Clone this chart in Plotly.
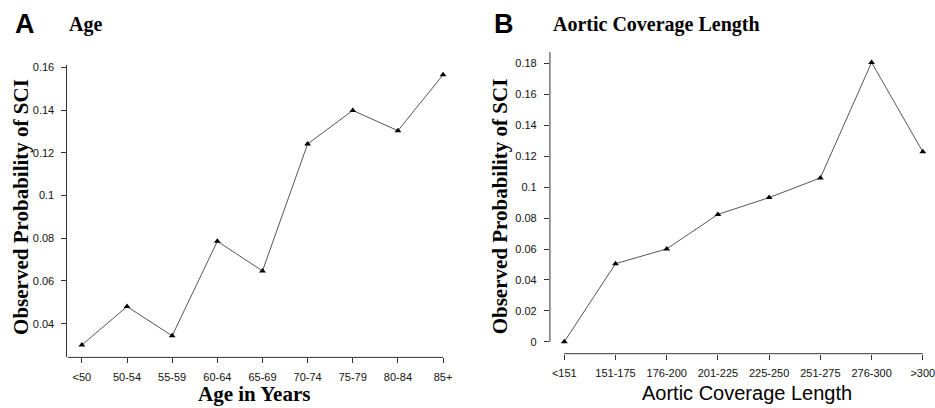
import plotly.graph_objects as go

# ---- data ----
age_groups = ["<50", "50-54", "55-59", "60-64", "65-69", "70-74", "75-79", "80-84", "85+"]
age_prob = [0.030, 0.048, 0.0343, 0.0786, 0.0647, 0.1242, 0.1399, 0.1304, 0.1566]

cov_groups = ["<151", "151-175", "176-200", "201-225", "225-250", "251-275", "276-300", ">300"]
cov_prob = [0.0, 0.0505, 0.0601, 0.0824, 0.0933, 0.106, 0.1807, 0.1229]

W, H = 935, 408
TICK_FONT = dict(family="Liberation Sans, Arial, sans-serif", size=11, color="#111")
SERIF = "Liberation Serif, Times New Roman, serif"
SANS = "Liberation Sans, Arial, sans-serif"
AX = "#333"

def px_x(p):
    return p / W

def px_y(p):
    return 1 - p / H

xa_range = [-0.32, 8.32]
ya_range = [0.0242, 0.1614]
xb_range = [-0.28, 7.16]
yb_range = [-0.0077, 0.1875]

fig = go.Figure()

line_style = dict(color="#555", width=1)
marker_style = dict(symbol="triangle-up", size=6, color="black")

fig.add_trace(go.Scatter(x=list(range(len(age_groups))), y=age_prob, mode="lines+markers",
                         line=line_style, marker=marker_style, xaxis="x", yaxis="y",
                         showlegend=False, hoverinfo="skip"))
fig.add_trace(go.Scatter(x=list(range(len(cov_groups))), y=cov_prob, mode="lines+markers",
                         line=line_style, marker=marker_style, xaxis="x2", yaxis="y2",
                         showlegend=False, hoverinfo="skip"))

common_x = dict(showgrid=False, zeroline=False, showline=False, ticks="outside", ticklen=5,
                tickwidth=1, tickcolor=AX, tickfont=TICK_FONT, ticklabelstandoff=4,
                ticklabeloverflow="allow")
common_y = dict(showgrid=False, zeroline=False, ticks="outside", ticklen=5,
                tickwidth=1, tickcolor=AX, tickfont=TICK_FONT, tick0=0, dtick=0.02,
                ticklabelstandoff=5)

fig.update_layout(
    width=W, height=H,
    margin=dict(l=0, r=0, t=0, b=0),
    paper_bgcolor="white", plot_bgcolor="white",
    xaxis=dict(domain=[px_x(67.7), px_x(459.5)], range=xa_range,
               tickmode="array", tickvals=list(range(len(age_groups))), ticktext=age_groups,
               anchor="y", **common_x),
    yaxis=dict(domain=[px_y(357), px_y(62)], range=ya_range, showline=True, linecolor=AX,
               linewidth=1, anchor="x", **common_y),
    xaxis2=dict(domain=[px_x(552.3), 1.0], range=xb_range,
                tickmode="array", tickvals=list(range(len(cov_groups))), ticktext=cov_groups,
                anchor="y2", **common_x),
    yaxis2=dict(domain=[px_y(353.3), px_y(49.3)], range=yb_range, showline=False,
                anchor="x2", **common_y),
)

# axis lines (R-style, spanning ticks)
fig.add_shape(type="line", xref="x", yref="y domain", x0=xa_range[0], x1=len(age_groups) - 1,
              y0=0, y1=0, line=dict(color=AX, width=1))
fig.add_shape(type="line", xref="x2", yref="y2 domain", x0=0, x1=len(cov_groups) - 1,
              y0=0, y1=0, line=dict(color=AX, width=1))
fig.add_shape(type="line", xref="x2 domain", yref="y2", x0=0, x1=0,
              y0=0, y1=yb_range[1], line=dict(color=AX, width=1))

annotations = [
    dict(text="<b>A</b>", x=px_x(13), y=px_y(21), xanchor="left", yanchor="middle",
         font=dict(family=SANS, size=27, color="black")),
    dict(text="<b>Age</b>", x=px_x(67), y=px_y(22), xanchor="left", yanchor="middle",
         font=dict(family=SERIF, size=20, color="black")),
    dict(text="<b>B</b>", x=px_x(494), y=px_y(21), xanchor="left", yanchor="middle",
         font=dict(family=SANS, size=27, color="black")),
    dict(text="<b>Aortic Coverage Length</b>", x=px_x(553), y=px_y(22), xanchor="left", yanchor="middle",
         font=dict(family=SERIF, size=20, color="black")),
    dict(text="<b>Observed Probability of SCI</b>", x=px_x(21.5), y=px_y(205), xanchor="center",
         yanchor="middle", textangle=-90, font=dict(family=SERIF, size=21, color="black")),
    dict(text="<b>Observed Probability of SCI</b>", x=px_x(503), y=px_y(205), xanchor="center",
         yanchor="middle", textangle=-90, font=dict(family=SERIF, size=21, color="black")),
    dict(text="<b>Age in Years</b>", x=px_x(255), y=px_y(394), xanchor="center", yanchor="middle",
         font=dict(family=SERIF, size=21, color="black")),
    dict(text="Aortic Coverage Length", x=px_x(750.5), y=px_y(393), xanchor="center", yanchor="middle",
         font=dict(family=SANS, size=20, color="black")),
]
for a in annotations:
    a.update(xref="paper", yref="paper", showarrow=False)
fig.update_layout(annotations=annotations)

fig.write_html("out.html", config={"displayModeBar": False},
               post_script="document.body.style.margin='0';document.body.style.overflow='hidden';")
